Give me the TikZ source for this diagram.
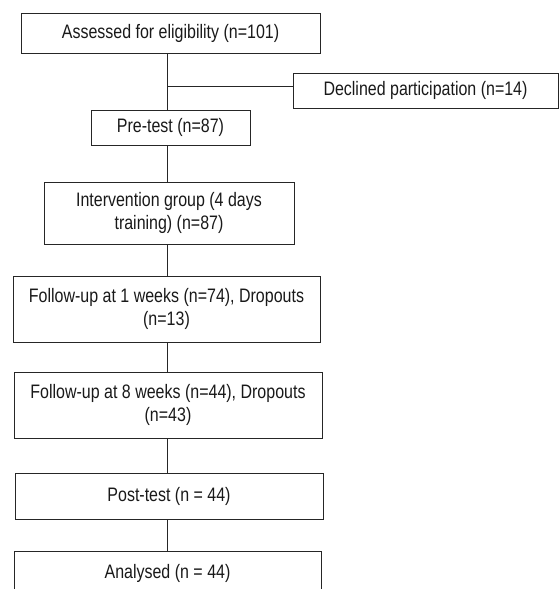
\documentclass[tikz,border=0pt]{standalone}
\usepackage{fontspec}
\setmainfont[FakeStretch=0.82]{Liberation Sans}
\begin{document}
\begin{tikzpicture}[x=1pt,y=-1pt,
  flowbox/.style={draw=black!85, line width=0.9pt, rectangle, inner sep=0pt, outer sep=0pt,
    align=center, font=\fontsize{19.5}{23}\selectfont, text=black!90},
  link/.style={draw=black!85, line width=0.9pt}]
\useasboundingbox (0,0) rectangle (559,589);
\clip (0,0) rectangle (559,589);
\node[flowbox, minimum width=299pt, minimum height=40pt] (b1) at (170.5,33) {Assessed for eligibility (n=101)};
\node[flowbox, minimum width=265pt, minimum height=35pt] (dec) at (425.5,90.5) {Declined participation (n=14)};
\node[flowbox, minimum width=159pt, minimum height=35pt] (pre) at (170.5,127.5) {Pre-test (n=87)};
\node[flowbox, minimum width=250pt, minimum height=62pt] (int) at (169,213) {Intervention group (4 days\\training) (n=87)};
\node[flowbox, minimum width=307pt, minimum height=66pt] (fu1) at (166.5,309) {Follow-up at 1 weeks (n=74), Dropouts\\(n=13)};
\node[flowbox, minimum width=308pt, minimum height=66pt] (fu8) at (168,405) {Follow-up at 8 weeks (n=44), Dropouts\\(n=43)};
\node[flowbox, minimum width=308pt, minimum height=46pt] (post) at (169,496) {Post-test (n = 44)};
\node[flowbox, minimum width=307pt, minimum height=44pt] (ana) at (167.5,573) {Analysed (n = 44)};
\coordinate (spine) at (167.5,0);
\coordinate (junc) at (167.5,86);
\draw[link] (b1.south -| spine) -- (pre.north -| spine);
\draw[link] (junc) -- (junc -| dec.west);
\draw[link] (pre.south -| spine) -- (int.north -| spine);
\draw[link] (int.south -| spine) -- (fu1.north -| spine);
\draw[link] (fu1.south -| spine) -- (fu8.north -| spine);
\draw[link] (fu8.south -| spine) -- (post.north -| spine);
\draw[link] (post.south -| spine) -- (ana.north -| spine);
\end{tikzpicture}
\end{document}
